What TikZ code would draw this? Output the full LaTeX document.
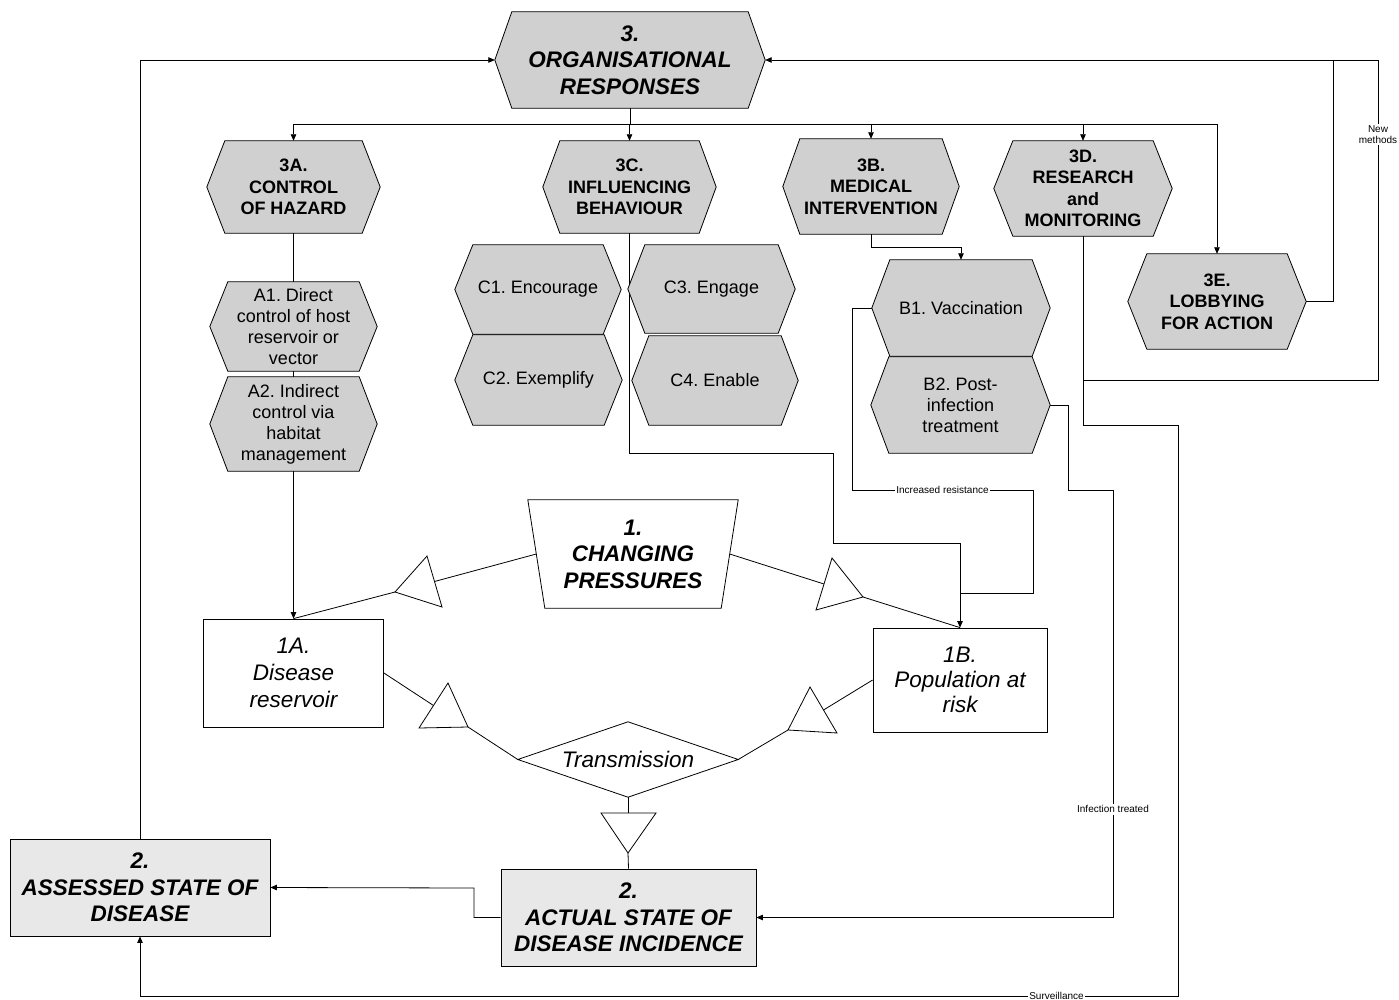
\documentclass[tikz,border=0pt]{standalone}
\usepackage{fontspec}
\setmainfont{Liberation Sans}
\usetikzlibrary{arrows.meta,calc}
\pgfdeclarelayer{back}
\pgfdeclarelayer{shapes}
\pgfsetlayers{back,shapes,main}
\definecolor{hexgray}{RGB}{208,208,208}
\definecolor{boxgray}{RGB}{232,232,232}
\frenchspacing
\newcommand\hexdraw[2]{%
  \draw[hexshape] (#1.west) -- ([xshift=#2pt]#1.north west) -- ([xshift=-#2pt]#1.north east)
    -- (#1.east) -- ([xshift=-#2pt]#1.south east) -- ([xshift=#2pt]#1.south west) -- cycle;}
\begin{document}
\begin{tikzpicture}[x=1pt,y=-1pt,
  hexn/.style={inner sep=0pt, align=center, font=\fontsize{18}{21.5}\selectfont\bfseries},
  subn/.style={inner sep=0pt, align=center, font=\fontsize{18}{21}\selectfont},
  hexshape/.style={draw=black, fill=hexgray, line width=0.8pt},
  wshape/.style={draw=black, fill=white, line width=0.8pt},
  bigbi/.style={font=\fontsize{22.5}{26.5}\selectfont\bfseries\itshape, align=center, inner sep=0pt},
  ital/.style={font=\fontsize{22.5}{27}\selectfont\itshape, align=center, inner sep=0pt},
  wbox/.style={draw, line width=0.8pt, fill=white},
  gbox/.style={draw, line width=0.8pt, fill=boxgray},
  conn/.style={line width=0.8pt},
  arr/.style={conn, -{Triangle[length=6.5pt,width=5.5pt]}},
  lbl/.style={fill=white, inner sep=1.5pt, font=\fontsize{10}{11}\selectfont, align=center}
]
\frenchspacing
\useasboundingbox (0,0) rectangle (1399,1000);
\begin{pgfonlayer}{back}
\fill[white] (0,0) rectangle (1399,1000);
\end{pgfonlayer}

% ---- hexagon nodes (text only; shapes drawn on layer) ----
\node[bigbi, minimum width=270, minimum height=96] (org) at (630,60) {3.\\ORGANISATIONAL\\RESPONSES};
\node[hexn, minimum width=173, minimum height=92] (ha) at (293.5,187) {3A.\\CONTROL\\OF HAZARD};
\node[hexn, minimum width=173, minimum height=92] (hc) at (629.5,187) {3C.\\INFLUENCING\\BEHAVIOUR};
\node[hexn, minimum width=176, minimum height=95] (hb) at (871,186.5) {3B.\\MEDICAL\\INTERVENTION};
\node[hexn, minimum width=178, minimum height=95] (hd) at (1083,188.5) {3D.\\RESEARCH\\and\\MONITORING};
\node[hexn, minimum width=178, minimum height=95] (he) at (1217,301.5) {3E.\\LOBBYING\\FOR ACTION};
\node[subn, minimum width=167, minimum height=89] (a1) at (293.5,326.5) {A1. Direct\\control of host\\reservoir or\\vector};
\node[subn, minimum width=167, minimum height=94] (a2) at (293.5,424) {A2. Indirect\\control via\\habitat\\management};
\node[subn, minimum width=166, minimum height=89] (c1) at (538,289.5) {C1. Encourage};
\node[subn, minimum width=167, minimum height=90] (c2) at (538.5,380) {C2. Exemplify};
\node[subn, minimum width=167, minimum height=88] (c3) at (711.5,289) {C3. Engage};
\node[subn, minimum width=166, minimum height=89] (c4) at (715,380.5) {C4. Enable};
\node[subn, minimum width=178, minimum height=96] (b1) at (961,308) {B1. Vaccination};
\node[subn, minimum width=179, minimum height=96] (b2) at (960.5,405) {B2. Post-\\infection\\treatment};

% ---- boxes ----
\node[wbox, ital, minimum width=180, minimum height=108] (r1a) at (293.5,673) {1A.\\Disease\\reservoir};
\node[wbox, ital, font=\fontsize{22.5}{25}\selectfont\itshape, minimum width=174, minimum height=104] (r1b) at (960,680) {1B.\\Population at\\risk};
\node[gbox, bigbi, minimum width=260, minimum height=97] (ass) at (140,887.5) {2.\\ASSESSED STATE OF\\DISEASE};
\node[gbox, bigbi, minimum width=255, minimum height=97] (act) at (628.5,917.5) {2.\\ACTUAL STATE OF\\DISEASE INCIDENCE};
\node[bigbi, minimum width=210, minimum height=108] (press) at (633,554) {1.\\CHANGING\\PRESSURES};
\node[ital, minimum width=220, minimum height=75] (trans) at (628,759.5) {Transmission};

% ---- coordinates ----
\coordinate (pl) at ($(press.north west)!0.5!([xshift=17pt]press.south west)$);
\coordinate (pr) at ($(press.north east)!0.5!([xshift=-17pt]press.south east)$);
\coordinate (tlin) at (434.5,581.5); \coordinate (tlout) at (395,592);
\coordinate (trin) at (824,584);     \coordinate (trout) at (863,597);
\coordinate (llin) at (433.5,705.5); \coordinate (llout) at (468,727);
\coordinate (rlin) at (823.5,710);   \coordinate (rlout) at (788,730);
\coordinate (bin) at (628,813);      \coordinate (bout) at (628,853);
\coordinate (busl) at (293,124);
\coordinate (k1) at (833,453); \coordinate (k2) at (833,543);
\coordinate (rs1) at (852,490); \coordinate (rs2) at (1033,490); \coordinate (rs3) at (1033,593);
\coordinate (it1) at (1068,490); \coordinate (it2) at (1113,490);
\coordinate (sv1) at (1178,425); \coordinate (sv2) at (1178,996);
\coordinate (nm1) at (1378,380); \coordinate (nm2) at (1378,60); \coordinate (nj) at (1333,60);
\coordinate (aa) at (474,888);

% ---- shapes ----
\begin{pgfonlayer}{shapes}
\hexdraw{org}{17}
\hexdraw{ha}{18}
\hexdraw{hc}{17}
\hexdraw{hb}{17}
\hexdraw{hd}{19}
\hexdraw{he}{19}
\hexdraw{a1}{18}
\hexdraw{a2}{18}
\hexdraw{c1}{18}
\hexdraw{c2}{18}
\hexdraw{c3}{17}
\hexdraw{c4}{17}
\hexdraw{b1}{18}
\hexdraw{b2}{18}
\draw[wshape] (press.north west) -- (press.north east) -- ([xshift=-17pt]press.south east) -- ([xshift=17pt]press.south west) -- cycle;
\draw[wshape] (trans.west) -- (trans.north) -- (trans.east) -- (trans.south) -- cycle;
\draw[wshape] (427,556) -- (442,607) -- (tlout) -- cycle;
\draw[wshape] (832,558) -- (816,610) -- (trout) -- cycle;
\draw[wshape] (448,683) -- (419,728) -- (llout) -- cycle;
\draw[wshape] (810,687) -- (837,733) -- (rlout) -- cycle;
\draw[wshape] (601,813) -- (656,813) -- (bout) -- cycle;
\end{pgfonlayer}

% ---- connectors ----
\begin{pgfonlayer}{back}
\draw[conn] (org.south) -- (org.south |- busl);
\draw[conn] (ha.north |- busl) -- (he.north |- busl);
\draw[arr] (ha.north |- busl) -- (ha.north);
\draw[arr] (hc.north |- busl) -- (hc.north);
\draw[arr] (hb.north |- busl) -- (hb.north);
\draw[arr] (hd.north |- busl) -- (hd.north);
\draw[arr] (he.north |- busl) -- (he.north);
\draw[arr] (ha.south) -- (r1a.north);
\draw[arr] (hc.south) |- (k1) -- (k2) -| (r1b.north);
\draw[arr] (hb.south) -- ++(0,13) -| (b1.north);
\draw[conn] (b1.west) -| (rs1) -- node[lbl]{Increased resistance} (rs2) -- (rs3) -- (rs3 -| r1b.north);
\draw[arr] (b2.east) -| (it1) -- (it2) -- node[lbl, pos=0.747]{Infection treated} (it2 |- act.east) -- (act.east);
\draw[arr] (hd.south) |- (sv1) -- (sv2) -- node[lbl, pos=0.117]{Surveillance} (sv2 -| ass.south) -- (ass.south);
\draw[conn] (hd.south |- nm1) -- (nm1) -- node[lbl, pos=0.766]{New\\methods} (nm2) -- (nj);
\draw[arr] (he.east) -| (nj) -- (org.east);
\draw[arr] (ass.north) |- (org.west);
\draw[arr] (act.west) -| (aa) -- (ass.east);
\draw[conn] (pl) -- (tlin);
\draw[conn] (tlout) -- (r1a.north);
\draw[conn] (pr) -- (trin);
\draw[conn] (trout) -- (r1b.north);
\draw[conn] (r1a.east) -- (llin);
\draw[conn] (llout) -- (trans.west);
\draw[conn] (r1b.west) -- (rlin);
\draw[conn] (rlout) -- (trans.east);
\draw[conn] (trans.south) -- (bin);
\draw[conn] (bout) -- (act.north);
\end{pgfonlayer}
\end{tikzpicture}
\end{document}
